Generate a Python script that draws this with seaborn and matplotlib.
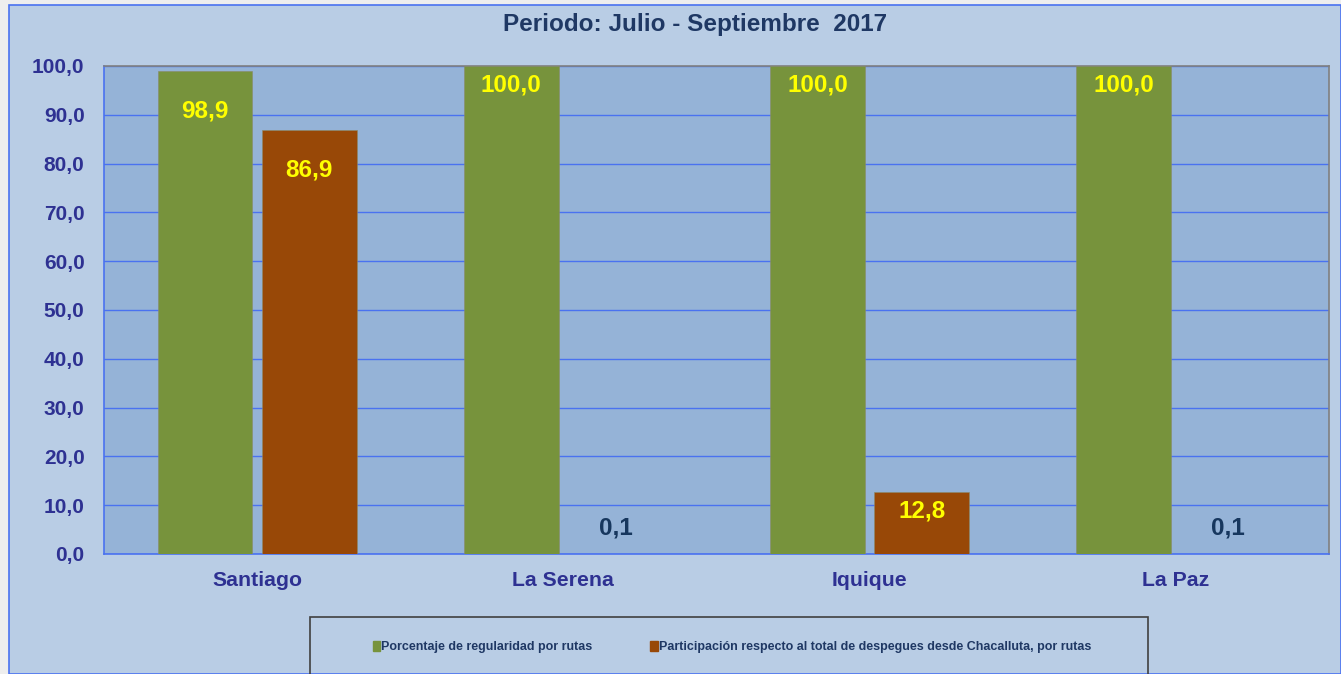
import pandas as pd
import matplotlib.pyplot as plt
import seaborn as sns
from matplotlib.patches import Rectangle, Patch

# datos del grafico
rutas = ["Santiago", "La Serena", "Iquique", "La Paz"]
regularidad = [98.9, 100.0, 100.0, 100.0]
participacion = [86.9, 0.1, 12.8, 0.1]
serie_reg = "Porcentaje de regularidad por rutas"
serie_par = "Participación respecto al total de despegues desde Chacalluta, por rutas"
titulo = "Periodo: Julio - Septiembre  2017"
y_ticks = [0, 10, 20, 30, 40, 50, 60, 70, 80, 90, 100]

df = pd.DataFrame({
    "ruta": rutas * 2,
    "valor": regularidad + participacion,
    "serie": [serie_reg] * len(rutas) + [serie_par] * len(rutas),
})

sns.set_style("white")
plt.rcParams["font.family"] = ["Liberation Sans", "DejaVu Sans"]
plt.rcParams["font.weight"] = "bold"

verde = "#77933c"
cafe = "#984807"
azul_linea = "#4a72f0"
texto_eje = "#2e3192"
texto_navy = "#17375e"

fig = plt.figure(figsize=(13.41, 6.74), dpi=100, facecolor="#eeeeee")
# fondo del area del grafico con borde azul
fig.patches.append(Rectangle((9 / 1341, 0), 1 - 9 / 1341, 1 - 5 / 674,
                             transform=fig.transFigure, facecolor="#b9cde5",
                             edgecolor=azul_linea, lw=1.2, zorder=-1))

ax = fig.add_axes([104 / 1341, 1 - 554 / 674, 1225 / 1341, 488 / 674])
ax.set_zorder(1)
ax.set_facecolor("#95b3d7")

sns.barplot(data=df, x="ruta", y="valor", hue="serie",
            palette=[verde, cafe], width=0.68, gap=0.09,
            order=rutas, hue_order=[serie_reg, serie_par],
            saturation=1, legend=False, ax=ax, zorder=3,
            edgecolor="#8a8a6a", linewidth=0.4)

ax.set_ylim(0, 100)
ax.set_xlim(-0.5, len(rutas) - 0.5)
ax.set_yticks(y_ticks)
ax.set_yticklabels([f"{v:.1f}".replace(".", ",") for v in y_ticks])
ax.yaxis.grid(True, color=azul_linea, lw=1)
ax.set_axisbelow(True)
ax.set_xlabel("")
ax.set_ylabel("")

ax.tick_params(axis="y", direction="out", length=6, color=azul_linea,
               labelsize=15, labelcolor=texto_eje, pad=8)
ax.tick_params(axis="x", length=0, labelsize=15.3, labelcolor=texto_eje, pad=12)
ax.set_xticks([i + 0.5 for i in range(len(rutas) - 1)], minor=True)
ax.tick_params(axis="x", which="minor", direction="out", length=6, color=azul_linea)
for lbl in ax.get_yticklabels() + ax.get_xticklabels():
    lbl.set_fontweight("bold")

ax.spines["left"].set_color(azul_linea)
ax.spines["bottom"].set_color(azul_linea)
ax.spines["top"].set_color("#808080")
ax.spines["right"].set_color("#808080")
for s in ax.spines.values():
    s.set_linewidth(1.2)

# etiquetas de valores
desplaz = {"Santiago": -40}
for k, cont in enumerate(ax.containers):
    valores = regularidad if k == 0 else participacion
    for i, bar in enumerate(cont):
        v = valores[i]
        xc = bar.get_x() + bar.get_width() / 2
        if v < 5:
            dy, col = 26, texto_navy
        else:
            dy, col = desplaz.get(rutas[i], -19), "#ffff00"
        ax.annotate(f"{v:.1f}".replace(".", ","), (xc, v), xytext=(0, dy),
                    textcoords="offset pixels", ha="center", va="center",
                    fontsize=17.5, fontweight="bold", color=col, zorder=5)

fig.text(695 / 1341, 1 - 25 / 674, titulo, ha="center", va="center",
         fontsize=17.5, fontweight="bold", color="#1f3864")

# leyenda con caja
fig.patches.append(Rectangle((310 / 1341, -0.02), 838 / 1341, 0.02 + 57 / 674,
                             transform=fig.transFigure, facecolor="none",
                             edgecolor="#404040", lw=1.2, zorder=2))
handles = [Patch(facecolor=verde, edgecolor=verde), Patch(facecolor=cafe, edgecolor=cafe)]
fig.legend(handles, [serie_reg, serie_par], loc="center",
           bbox_to_anchor=(732 / 1341, 1 - 647 / 674), ncol=2, frameon=False,
           handlelength=0.6, handleheight=0.9, handletextpad=0.1,
           columnspacing=4.6, labelcolor="#1f3864",
           prop={"weight": "bold", "size": 9})

fig.savefig("out.png", dpi=100)
